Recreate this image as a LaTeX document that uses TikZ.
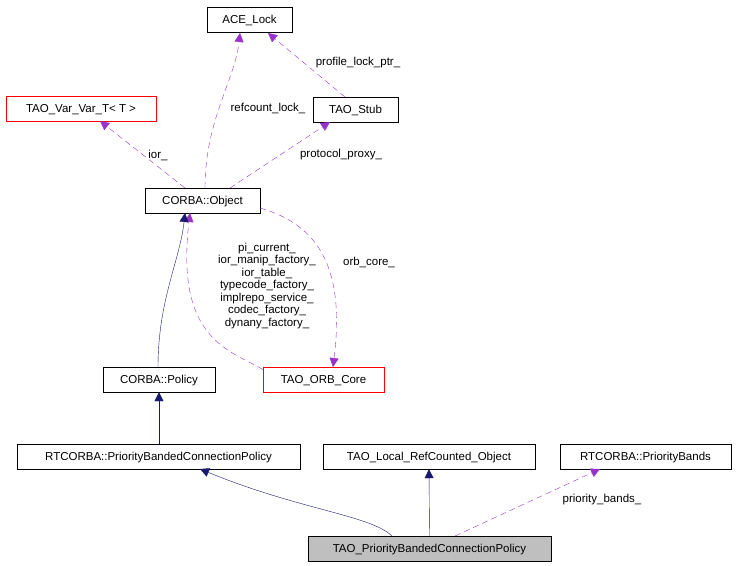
\documentclass[tikz,border=0pt]{standalone}
\usepackage{fontspec}
\setmainfont{Liberation Sans}
\usetikzlibrary{arrows.meta}
\begin{document}
\begin{tikzpicture}[x=1pt,y=-1pt,
  box/.style={draw=black,fill=white,inner sep=0pt,minimum height=25pt,text height=8pt,text depth=1pt,font=\fontsize{11.5}{12}\selectfont,anchor=center},
  red/.style={box,draw=red},
  inh/.style={draw={rgb,255:red,25;green,25;blue,112},-{Triangle[length=9pt,width=9pt]}},
  use/.style={draw={rgb,255:red,153;green,50;blue,204},dash pattern=on 6pt off 4pt,-{Triangle[length=9pt,width=9pt]}},
  lab/.style={font=\fontsize{11.5}{12.5}\selectfont,align=center,inner sep=1pt}]
\useasboundingbox (0,0) rectangle (741,565);
\node[box,minimum width=85pt] (ace) at (249.5,20) {ACE\_Lock};
\node[red,minimum width=150pt] (var) at (81,108.5) {TAO\_Var\_Var\_T\textless{} T \textgreater};
\node[box,minimum width=85pt] (stub) at (355.5,109.5) {TAO\_Stub};
\node[box,minimum width=115pt] (obj) at (202.5,200.5) {CORBA::Object};
\node[box,minimum width=112pt] (pol) at (159,379.5) {CORBA::Policy};
\node[red,minimum width=121pt] (orb) at (323.5,379.5) {TAO\_ORB\_Core};
\node[box,minimum width=283pt] (rpbcp) at (158.5,456.5) {RTCORBA::PriorityBandedConnectionPolicy};
\node[box,minimum width=212pt] (lrc) at (429,456.5) {TAO\_Local\_RefCounted\_Object};
\node[box,minimum width=171pt] (pb) at (645.5,456.5) {RTCORBA::PriorityBands};
\node[box,minimum width=243pt,fill={rgb,255:red,191;green,191;blue,191}] (tao) at (429.5,548.5) {TAO\_PriorityBandedConnectionPolicy};

\draw[use] (185,188) -- (100,121);
\node[lab] at (158,155) {ior\_};
\draw[use] (205,188) .. controls (205,120) and (235,80) .. (240,33);
\node[lab] at (268,108) {refcount\_lock\_};
\draw[use] (230,188) -- (330,122);
\node[lab] at (341,155) {protocol\_proxy\_};
\draw[use] (345,97) -- (268,33);
\node[lab] at (358,63) {profile\_lock\_ptr\_};
\draw[use] (orb.west) ++(0,-10) .. controls (230,350) and (175,340) .. (190,213);
\node[lab] at (267,286) {pi\_current\_\\ior\_manip\_factory\_\\ior\_table\_\\typecode\_factory\_\\implrepo\_service\_\\codec\_factory\_\\dynany\_factory\_};
\draw[use] (260,208) .. controls (320,225) and (345,270) .. (333,367);
\node[lab] at (369,262) {orb\_core\_};
\draw[inh] (158,367) .. controls (158,300) and (180,260) .. (185,213);
\draw[inh] (pol.south|-rpbcp.north) -- (pol.south);
\draw[inh] (392,536) .. controls (370,515) and (300,510) .. (200,469);
\draw[inh] (tao.north) -- (lrc.south);
\draw[use] (455,536) -- (600,469);
\node[lab] at (602,500) {priority\_bands\_};
\end{tikzpicture}
\end{document}
